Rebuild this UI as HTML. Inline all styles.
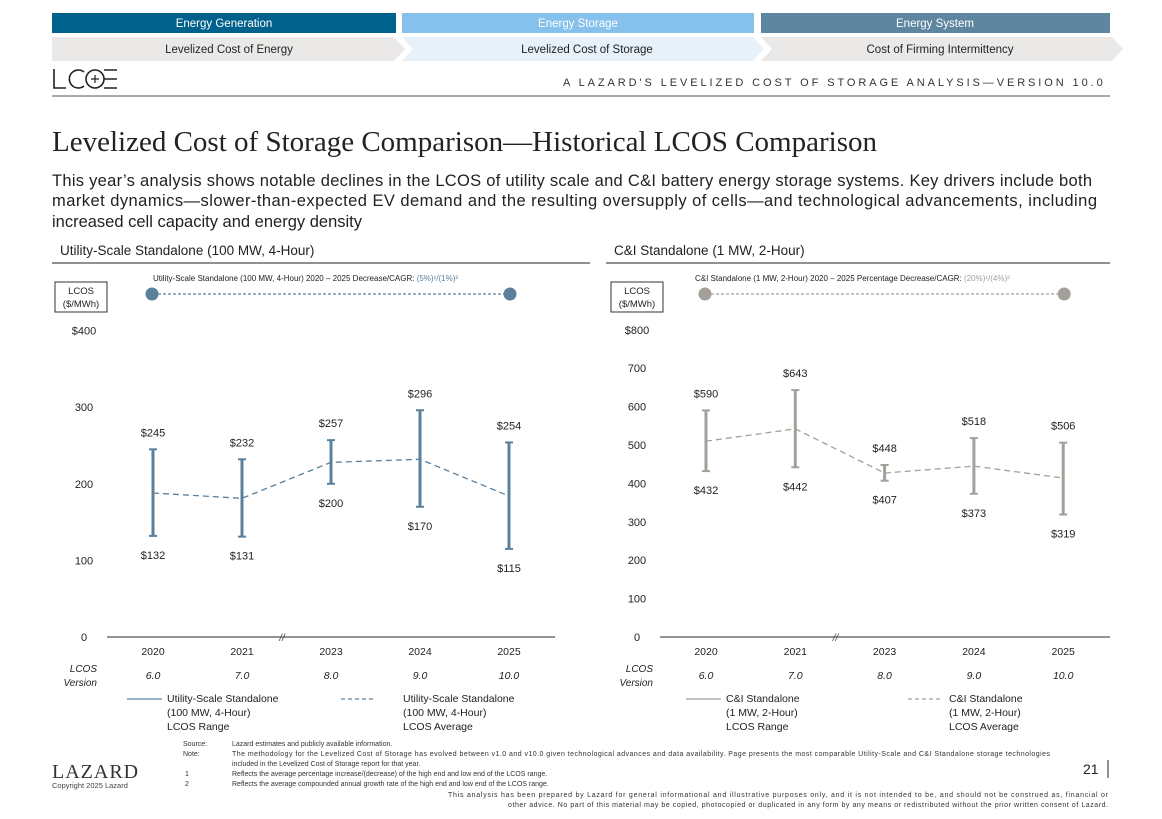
<!DOCTYPE html>
<html><head><meta charset="utf-8"><style>
html,body{margin:0;padding:0;background:#fff;}
svg{display:block;font-family:"Liberation Sans",sans-serif;}
</style></head><body>
<svg id="page" width="1162" height="819" viewBox="0 0 1162 819" xmlns="http://www.w3.org/2000/svg">
<rect x="0" y="0" width="1162" height="819" fill="#fff"/>
<g font-size="11.5" text-anchor="middle">
<rect x="52" y="13" width="344" height="20" fill="#00628c"/>
<text x="224" y="27" fill="#fff">Energy Generation</text>
<rect x="402" y="13" width="352" height="20" fill="#85c1eb"/>
<text x="578" y="27" fill="#fff">Energy Storage</text>
<rect x="761" y="13" width="349" height="20" fill="#5e86a0"/>
<text x="935" y="27" fill="#fff">Energy System</text>
<polygon points="52,37 394,37 405,49 394,61 52,61" fill="#ebe9e7"/>
<text x="229" y="53" fill="#222">Levelized Cost of Energy</text>
<polygon points="402,37 753,37 764,49 753,61 402,61 413,49" fill="#e6f1fa"/>
<text x="587" y="53" fill="#222">Levelized Cost of Storage</text>
<polygon points="761,37 1112,37 1123,49 1112,61 761,61 772,49" fill="#ebe9e7"/>
<text x="940" y="53" fill="#222">Cost of Firming Intermittency</text>
</g>
<g fill="none" stroke="#222" stroke-width="1.6">
<path d="M54,69 V88 H66"/>
<path d="M84,72 A9,9 0 1 0 84,86"/>
<circle cx="95" cy="79" r="9"/>
<path d="M91,79 H99 M95,75 V83" stroke-width="1.2"/>
<path d="M104,70 H117 M104,79 H117 M104,88 H117"/>
</g>
<text x="563" y="86" font-size="11" fill="#333" letter-spacing="3.3" textLength="543">A   LAZARD'S LEVELIZED COST OF STORAGE ANALYSIS—VERSION 10.0</text>
<line x1="52" y1="96" x2="1110" y2="96" stroke="#555" stroke-width="1"/>
<text x="52" y="151" font-family="Liberation Serif, serif" font-size="29" fill="#222" textLength="825">Levelized Cost of Storage Comparison—Historical LCOS Comparison</text>
<g font-size="16.5" fill="#222">
<text x="52" y="186" textLength="1040">This year’s analysis shows notable declines in the LCOS of utility scale and C&amp;I battery energy storage systems. Key drivers include both</text>
<text x="52" y="206" textLength="1045">market dynamics—slower-than-expected EV demand and the resulting oversupply of cells—and technological advancements, including</text>
<text x="52" y="227" textLength="310">increased cell capacity and energy density</text>
</g>
<text x="60" y="255" font-size="13.5" fill="#222">Utility-Scale Standalone (100 MW, 4-Hour)</text>
<line x1="52" y1="263" x2="590" y2="263" stroke="#222"/>
<text x="614" y="255" font-size="13.5" fill="#222">C&amp;I Standalone (1 MW, 2-Hour)</text>
<line x1="606" y1="263" x2="1110" y2="263" stroke="#222"/>
<g id="charts"></g>
<text x="52" y="778" font-family="Liberation Serif, serif" font-size="20" fill="#333" letter-spacing="1">LAZARD</text>
<text x="52" y="788" font-size="7.5" fill="#444">Copyright 2025 Lazard</text>
<g font-size="7" fill="#333">
<text x="183" y="746">Source:</text><text x="232" y="746">Lazard estimates and publicly available information.</text>
<text x="183" y="756">Note:</text><text x="232" y="756" textLength="818">The methodology for the Levelized Cost of Storage has evolved between v1.0 and v10.0 given technological advances and data availability. Page presents the most comparable Utility-Scale and C&amp;I Standalone storage technologies</text>
<text x="232" y="766">included in the Levelized Cost of Storage report for that year.</text>
<text x="185" y="776">1</text><text x="232" y="776">Reflects the average percentage increase/(decrease) of the high end and low end of the LCOS range.</text>
<text x="185" y="786">2</text><text x="232" y="786">Reflects the average compounded annual growth rate of the high end and low end of the LCOS range.</text>
<text x="1108" y="797" text-anchor="end" textLength="660">This analysis has been prepared by Lazard for general informational and illustrative purposes only, and it is not intended to be, and should not be construed as, financial or</text>
<text x="1108" y="807" text-anchor="end" textLength="600">other advice. No part of this material may be copied, photocopied or duplicated in any form by any means or redistributed without the prior written consent of Lazard.</text>
</g>
<text x="1083" y="774" font-size="14" fill="#222">21</text>
<line x1="1108" y1="760" x2="1108" y2="778" stroke="#222"/>
</svg>
<script>
const years = ["2020","2021","2023","2024","2025"];
const versions = ["6.0","7.0","8.0","9.0","10.0"];
const utilHigh = [245,232,257,296,254];
const utilLow = [132,131,200,170,115];
const utilAvg = [188,181,228,232,184];
const utilTicks = ["$400","300","200","100","0"];
const utilTickVals = [400,300,200,100,0];
const ciHigh = [590,643,448,518,506];
const ciLow = [432,442,407,373,319];
const ciAvg = [510,542,427,445,414];
const ciTicks = ["$800","700","600","500","400","300","200","100","0"];
const ciTickVals = [800,700,600,500,400,300,200,100,0];

const NS="http://www.w3.org/2000/svg";
const root=document.getElementById('charts');
function mk(tag,attrs,parent,txt){const e=document.createElementNS(NS,tag);for(const k in attrs)e.setAttribute(k,attrs[k]);if(txt!==undefined)e.textContent=txt;(parent||root).appendChild(e);return e;}

function chart(o){
  const g=mk('g',{});
  
  
  const y=v=>637-v*o.k;
  const x=i=>o.x0+i*o.step;
  o.tickVals.forEach((v,i)=>{
    const t=mk('text',{x:o.tickX,y:y(v)+4,'text-anchor':'middle','font-size':11,fill:'#222'},g,o.ticks[i]);
    
    
  });
  const ax=mk('line',{x1:o.ax1,y1:637,x2:o.ax2,y2:637,stroke:'#555','stroke-width':1.2},g);
  
  
  mk('text',{x:o.x0+1.45*o.step,y:641,'text-anchor':'middle','font-size':10,'font-style':'italic',fill:'#444'},g,'//');
  const bx=mk('rect',{x:o.boxX,y:282,width:52,height:30,fill:'none',stroke:'#333','stroke-width':1},g);
  
  
  mk('text',{x:o.boxX+26,y:294,'text-anchor':'middle','font-size':9.5,fill:'#222'},g,'LCOS');
  mk('text',{x:o.boxX+26,y:307,'text-anchor':'middle','font-size':9.5,fill:'#222'},g,'($/MWh)');
  const cap=mk('text',{x:o.capX,y:281,'font-size':8,fill:'#222'},g);
  
  
  cap.textContent=o.cap;
  mk('tspan',{fill:o.color},cap,o.capVal);
  mk('line',{x1:x(0),y1:294,x2:x(4),y2:294,stroke:o.color,'stroke-width':1.2,'stroke-dasharray':'3,2'},g);
  [0,4].forEach(i=>{const c=mk('circle',{cx:x(i)-(i?-1:1),cy:294,r:6.5,fill:o.color},g);
    
    });
  const pts=o.avg.map((v,i)=>x(i)+','+y(v)).join(' ');
  const pl=mk('polyline',{points:pts,fill:'none',stroke:o.color,'stroke-width':1.3,'stroke-dasharray':'6,4'},g);
  
  
  years.forEach((yr,i)=>{
    const xi=x(i), yh=y(o.high[i]), yl=y(o.low[i]);
    const b=mk('g',{},g);
    
    
    mk('line',{x1:xi,y1:yh,x2:xi,y2:yl,stroke:o.color,'stroke-width':3},b);
    mk('line',{x1:xi-4,y1:yh,x2:xi+4,y2:yh,stroke:o.color,'stroke-width':2},b);
    mk('line',{x1:xi-4,y1:yl,x2:xi+4,y2:yl,stroke:o.color,'stroke-width':2},b);
    const th=mk('text',{x:xi,y:yh-13,'text-anchor':'middle','font-size':11,fill:'#222'},g,'$'+o.high[i]);
    
    
    const tl=mk('text',{x:xi,y:yl+23,'text-anchor':'middle','font-size':11,fill:'#222'},g,'$'+o.low[i]);
    
    
    const ty=mk('text',{x:xi,y:655,'text-anchor':'middle','font-size':10.5,fill:'#222'},g,yr);
    
    
    const tv=mk('text',{x:xi,y:679,'text-anchor':'middle','font-size':10.5,'font-style':'italic',fill:'#222'},g,versions[i]);
    
    
  });
  mk('text',{x:o.boxX+42,y:672,'text-anchor':'end','font-size':10,'font-style':'italic',fill:'#222'},g,'LCOS');
  mk('text',{x:o.boxX+42,y:686,'text-anchor':'end','font-size':10,'font-style':'italic',fill:'#222'},g,'Version');
  [[o.lg1,'',o.lgOff1,'Range'],[o.lg2,'4,3',o.lgOff2,'Average']].forEach(([lx,da,off,kind])=>{
    const lg=mk('g',{},g);
    
    
    mk('line',{x1:lx,y1:699,x2:lx+35,y2:699,stroke:o.color,'stroke-width':1.3,'stroke-dasharray':da||'none'},lg);
    const tx=lx+off;
    mk('text',{x:tx,y:702,'font-size':10.5,fill:'#222'},lg,o.legName);
    mk('text',{x:tx,y:716,'font-size':10.5,fill:'#222'},lg,o.legSub);
    mk('text',{x:tx,y:730,'font-size':10.5,fill:'#222'},lg,'LCOS '+kind);
  });
}
chart({name:'utility-scale-chart',x0:153,step:89,k:0.766,high:utilHigh,low:utilLow,avg:utilAvg,ticks:utilTicks,tickVals:utilTickVals,tickX:84,ax1:107,ax2:555,boxX:55,color:'#5b809c',capX:153,cap:'Utility-Scale Standalone (100 MW, 4-Hour) 2020 – 2025 Decrease/CAGR: ',capVal:'(5%)¹/(1%)²',lg1:127,lg2:341,lgOff1:40,lgOff2:62,legName:'Utility-Scale Standalone',legSub:'(100 MW, 4-Hour)'});
chart({name:'ci-standalone-chart',x0:706,step:89.3,k:0.384,high:ciHigh,low:ciLow,avg:ciAvg,ticks:ciTicks,tickVals:ciTickVals,tickX:637,ax1:660,ax2:1110,boxX:611,color:'#a49f99',capX:695,cap:'C&I Standalone (1 MW, 2-Hour)  2020 – 2025 Percentage Decrease/CAGR:  ',capVal:'(20%)¹/(4%)²',lg1:686,lg2:908,lgOff1:40,lgOff2:41,legName:'C&I Standalone',legSub:'(1 MW, 2-Hour)'});
</script>
</body></html>
